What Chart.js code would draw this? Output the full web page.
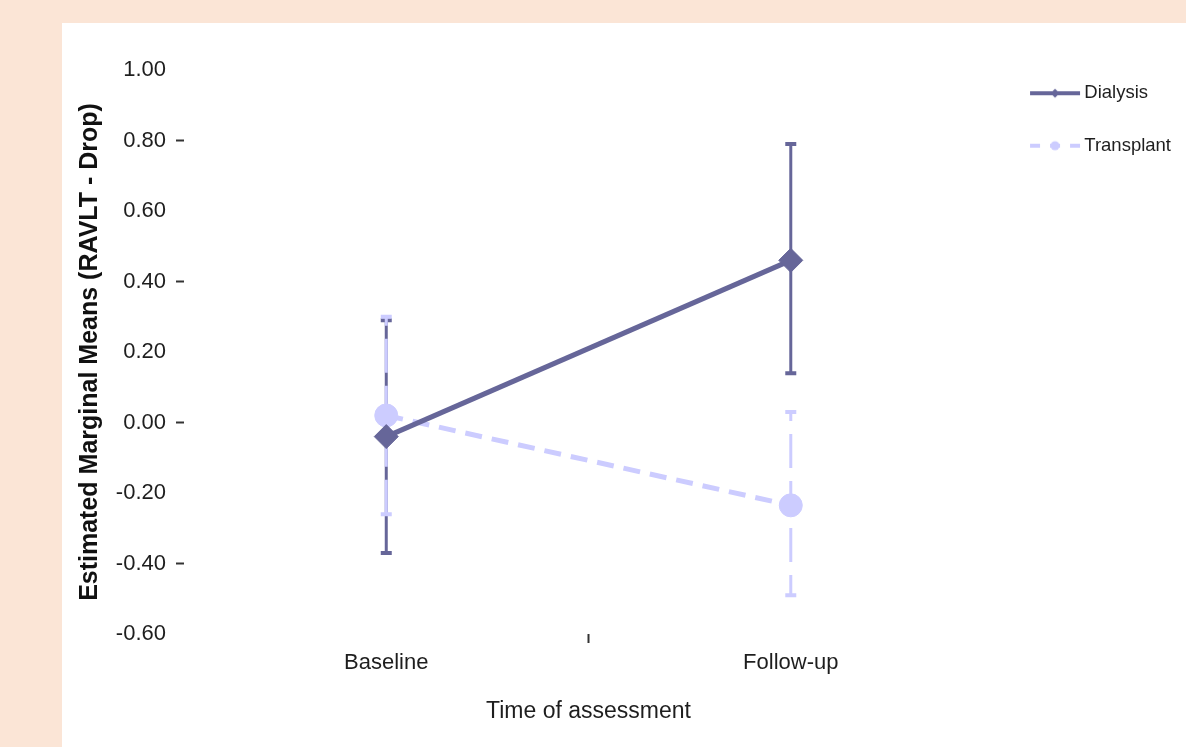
<!DOCTYPE html>
<html><head><meta charset="utf-8">
<script src="https://cdn.jsdelivr.net/npm/chart.js@4.4.0/dist/chart.umd.min.js"></script>
<style>
html,body{margin:0;padding:0;background:#FBE5D6;width:1186px;height:747px;overflow:hidden;}
#panel{position:absolute;left:62px;top:23px;width:1124px;height:724px;background:#ffffff;}
</style></head><body>
<div id="panel"><canvas id="c"></canvas></div>
<script>
// ---- data ----
const categories = ['Baseline', 'Follow-up'];
const seriesNames = ['Dialysis', 'Transplant'];
const dialysisMeans = [-0.04, 0.46];
const dialysisLower = [-0.37, 0.14];
const dialysisUpper = [0.29, 0.79];
const transplantMeans = [0.02, -0.235];
const transplantLower = [-0.26, -0.49];
const transplantUpper = [0.30, 0.03];
const yTickMin = -0.6;
const yTickMax = 1.0;
const yTickStep = 0.2;
const axisTitles = { x: 'Time of assessment', y: 'Estimated Marginal Means (RAVLT - Drop)' };

// ---- styles ----
const DARK = '#666699';
const LIGHT = '#CCCCFF';
const TXT = '#1e1e1e';
Chart.defaults.font.family = "'Liberation Sans', Arial, sans-serif";
Chart.defaults.color = TXT;

const errorSeries = [
  { lower: dialysisLower, upper: dialysisUpper, color: DARK, dash: [], width: 3 },
  { lower: transplantLower, upper: transplantUpper, color: LIGHT, dash: [34, 13], dashOffset: 25, width: 3 }
];

const errorBarPlugin = {
  id: 'errorBars',
  beforeDatasetsDraw(chart) {
    const ctx = chart.ctx, ys = chart.scales.y;
    errorSeries.forEach((es, i) => {
      const meta = chart.getDatasetMeta(i);
      ctx.save();
      ctx.strokeStyle = es.color;
      meta.data.forEach((pt, j) => {
        const x = pt.x;
        const yl = ys.getPixelForValue(es.lower[j]);
        const yu = ys.getPixelForValue(es.upper[j]);
        ctx.lineWidth = es.width;
        ctx.setLineDash(es.dash);
        ctx.lineDashOffset = es.dashOffset || 0;
        ctx.beginPath(); ctx.moveTo(x, yu); ctx.lineTo(x, yl); ctx.stroke();
        ctx.setLineDash([]);
        ctx.lineWidth = 4;
        ctx.beginPath();
        ctx.moveTo(x - 5.5, yu); ctx.lineTo(x + 5.5, yu);
        ctx.moveTo(x - 5.5, yl); ctx.lineTo(x + 5.5, yl);
        ctx.stroke();
      });
      ctx.restore();
    });
  }
};

function makeIcon(color, dashed, marker) {
  const c = document.createElement('canvas');
  c.width = 60; c.height = 14;
  const g = c.getContext('2d');
  g.strokeStyle = color; g.fillStyle = color; g.lineWidth = 4;
  if (dashed) g.setLineDash([10, 10]);
  g.beginPath(); g.moveTo(9, 7); g.lineTo(59, 7); g.stroke();
  g.setLineDash([]);
  g.beginPath();
  if (marker === 'diamond') { g.moveTo(34, 2.5); g.lineTo(38.5, 7); g.lineTo(34, 11.5); g.lineTo(29.5, 7); g.closePath(); }
  else { g.arc(34, 7, 4.5, 0, Math.PI * 2); }
  g.fill();
  return c;
}
const legendIcons = [makeIcon(DARK, false, 'diamond'), makeIcon(LIGHT, true, 'circle')];

new Chart(document.getElementById('c'), {
  type: 'line',
  data: {
    labels: categories,
    datasets: [
      { label: seriesNames[0], data: dialysisMeans, borderColor: DARK, backgroundColor: DARK,
        borderWidth: 5, pointStyle: 'rectRot', pointRadius: 12, pointBorderWidth: 1,
        pointBackgroundColor: DARK, pointBorderColor: DARK, fill: false, tension: 0 },
      { label: seriesNames[1], data: transplantMeans, borderColor: LIGHT, backgroundColor: LIGHT,
        borderWidth: 5, borderDash: [17, 10], pointStyle: 'circle', pointRadius: 11.5, pointBorderWidth: 1,
        pointBackgroundColor: LIGHT, pointBorderColor: LIGHT, fill: false, tension: 0 }
    ]
  },
  options: {
    responsive: true,
    maintainAspectRatio: false,
    animation: false,
    layout: { padding: { top: 27, right: 5, bottom: 0, left: 0 } },
    plugins: {
      title: { display: true, text: ' ', position: 'top', fullSize: false, font: { size: 10 }, padding: { top: 3, bottom: 5 } },
      tooltip: { enabled: false },
      legend: {
        position: 'right', align: 'start',
        labels: {
          usePointStyle: true, pointStyleWidth: 48, padding: 34,
          font: { size: 18.5 }, color: TXT,
          generateLabels(chart) {
            const items = Chart.defaults.plugins.legend.labels.generateLabels(chart);
            items.forEach((it, i) => { it.pointStyle = legendIcons[i]; });
            return items;
          }
        }
      }
    },
    scales: {
      x: {
        type: 'category', offset: true,
        border: { display: false },
        grid: { display: true, offset: true, drawOnChartArea: false, tickLength: 9, tickWidth: 2,
          tickColor: c => (c.index === 1 ? '#333' : 'rgba(0,0,0,0)') },
        ticks: { font: { size: 22 }, color: TXT, padding: 7, maxRotation: 0 },
        title: { display: true, text: axisTitles.x, font: { size: 23 }, color: TXT, padding: { top: 14, bottom: 22 } }
      },
      y: {
        type: 'linear', min: yTickMin, max: yTickMax,
        border: { display: false },
        grid: { display: true, drawOnChartArea: false, tickLength: 8, tickWidth: 2,
          tickColor: c => (c.index % 2 === 1 ? '#333' : 'rgba(0,0,0,0)') },
        ticks: { stepSize: yTickStep, font: { size: 22 }, color: TXT, padding: 10, callback: v => Number(v).toFixed(2) },
        title: { display: true, text: axisTitles.y, font: { size: 25, weight: 'bold' }, color: '#111', padding: { top: 13, bottom: 0 } },
        afterFit(scale) { scale.width = 122; }
      }
    }
  },
  plugins: [errorBarPlugin]
});
</script>
</body></html>
